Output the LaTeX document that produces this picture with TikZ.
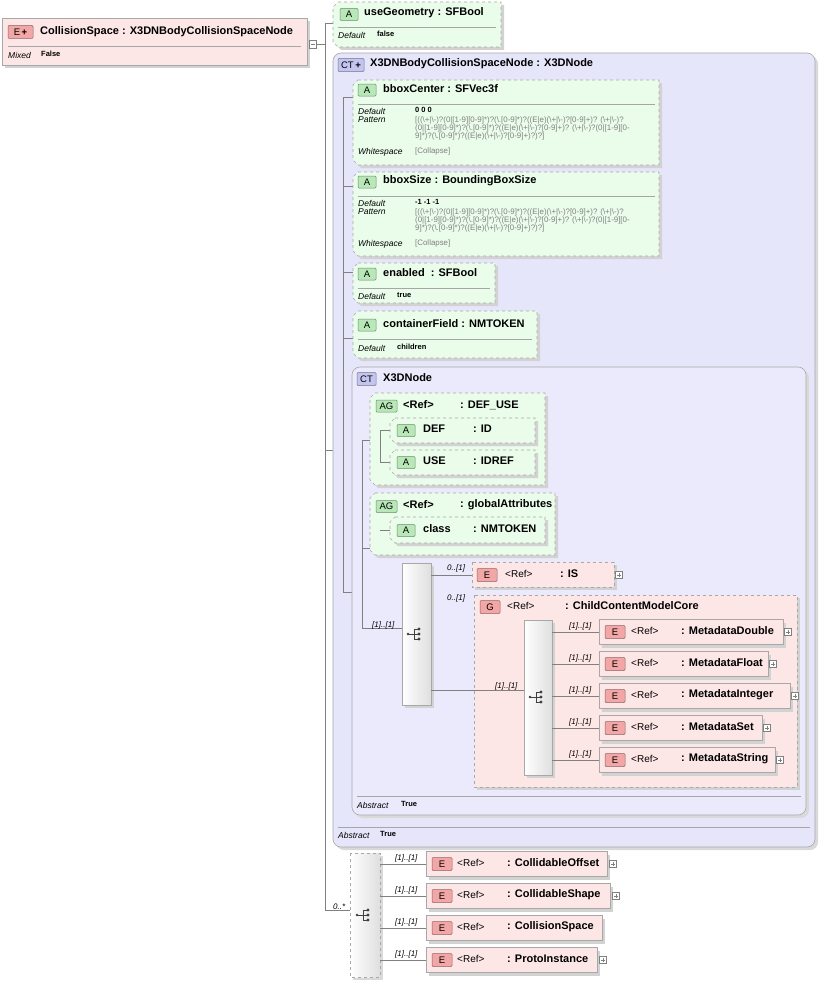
\documentclass[tikz,border=0pt]{standalone}
\usepackage{fontspec}
\setmainfont{Liberation Sans}
\begin{document}
\definecolor{agreen}{HTML}{EAFCEA}
\definecolor{bgreen}{HTML}{B8E8B8}
\definecolor{epink}{HTML}{FDE6E6}
\definecolor{bpink}{HTML}{F2A6A6}
\definecolor{ctlav}{HTML}{E6E6FA}
\definecolor{ctlav2}{HTML}{EAEAFC}
\definecolor{bct}{HTML}{C4C4F0}
\definecolor{bord}{HTML}{A8A8A8}
\definecolor{lin}{HTML}{808080}
\begin{tikzpicture}[x=1pt,y=-1pt,
 t/.style={anchor=west,inner sep=0pt,font=\fontsize{11}{12}\selectfont\bfseries},
 r/.style={anchor=west,inner sep=0pt,font=\fontsize{10}{12}\selectfont},
 k/.style={anchor=west,inner sep=0pt,font=\fontsize{8.5}{9}\selectfont\itshape},
 v/.style={anchor=west,inner sep=0pt,font=\fontsize{7.5}{9}\selectfont\bfseries},
 p/.style={anchor=west,inner sep=0pt,align=left,text=gray,font=\fontsize{7.9}{8}\selectfont},
 m/.style={anchor=west,inner sep=0pt,font=\fontsize{8}{9}\selectfont\itshape},
 con/.style={draw=lin,line width=0.6pt},
 badge/.style={draw=#1!60!black,fill=#1,rounded corners=1pt,line width=0.5pt,inner sep=0pt,font=\fontsize{9.5}{10}\selectfont,anchor=center},
]
\useasboundingbox (0,0) rectangle (819,982);
\newcommand\Ab[4]{% chamfered dashed attribute box
 \fill[gray!35] ({#1+3},{#2+3}) -- ({#3+3},{#2+3}) -- ({#3+3},{#4+3}) -- ({#1+8},{#4+3}) -- ({#1+3},{#4-2}) -- cycle;
 \draw[bord,dashed,fill=agreen,line width=0.6pt] ({#1+5},#2) -- (#3,#2) -- (#3,#4) -- ({#1+5},#4) -- (#1,{#4-5}) -- (#1,{#2+5}) -- cycle;}
\newcommand\Eb[5]{% element box, #5 dashed or solid
 \fill[gray!35] ({#1+3},{#2+3}) rectangle ({#3+3},{#4+3});
 \draw[bord,#5,fill=epink,line width=0.6pt] (#1,#2) rectangle (#3,#4);}
\newcommand\plus[2]{\draw[gray,fill=white,line width=0.4pt] ({#1-3.5},{#2-3.5}) rectangle ({#1+3.5},{#2+3.5}); \draw[gray,line width=0.4pt] ({#1-2},#2)--({#1+2},#2) (#1,{#2-2})--(#1,{#2+2});}
\newcommand\seqic[2]{\fill[black!75] ({#1-6},#2) circle (1.4pt); \draw[black!75,line width=0.8pt] ({#1-6},#2)--(#1,#2) (#1,{#2-5})--(#1,{#2+5}) (#1,{#2-5})--({#1+4},{#2-5}) (#1,{#2+5})--({#1+4},{#2+5}) (#1,#2)--({#1+4},#2);
 \fill[black!75] ({#1+5},{#2-5}) circle (1.6pt) ({#1+5},#2) circle (1.6pt) ({#1+5},{#2+5}) circle (1.6pt);}
\newcommand\seqbox[4]{\fill[gray!35] ({#1+3},{#2+3}) rectangle ({#3+3},{#4+3});
 \shade[left color=white,right color=gray!25] (#1,#2) rectangle (#3,#4); \draw[bord] (#1,#2) rectangle (#3,#4);}

% ---- root element
\Eb{2}{18}{307}{65}{solid}
\node[badge=bpink,minimum width=25pt,minimum height=13pt] (rootb) at (20.5,32) {E\,\textbf{+}};
\node[t] (root) at (40,32) {CollisionSpace : X3DNBodyCollisionSpaceNode};
\draw[gray!70] (8,46)--(301,46);
\node[k] at (8,55) {Mixed}; \node[v] at (41,54) {False};
\draw[gray,fill=white,line width=0.4pt] (309,40) rectangle (316,48); \draw[gray,line width=0.4pt] (310.5,44)--(314.5,44);
\coordinate (rootout) at (316,44);
\draw[con] (rootout) -- (325,44);
\draw[con] (325,23) -- (325,910);
\draw[con] (325,23)--(333,23) (325,450)--(333,450) (325,910)--(350,910);
\node[m] at (333,907) {0..*};

% ---- useGeometry
\Ab{333}{2}{501}{47}
\node[badge=bgreen,minimum width=18pt,minimum height=12pt] at (349,14.5) {A};
\node[t] (ug) at (364,13) {useGeometry : SFBool};
\draw[gray!70] (338,27)--(496,27);
\node[k] at (338,35) {Default}; \node[v] at (377,34) {false};

% ---- CT X3DNBodyCollisionSpaceNode
\fill[gray!30,rounded corners=8pt] (336,56) rectangle (818,850);
\draw[bord,fill=ctlav,rounded corners=8pt,line width=0.6pt] (333,53) rectangle (815,847);
\node[badge=bct,minimum width=26pt,minimum height=13pt] at (351,65) {CT\,\textbf{+}};
\node[t] (ct1) at (370,64) {X3DNBodyCollisionSpaceNode : X3DNode};
\draw[gray!70] (338,827)--(810,827);
\node[k] at (338,835) {Abstract}; \node[v] at (380,834) {True};

\draw[con] (343,97)--(343,592) (343,97)--(353,97) (343,186)--(353,186) (343,272)--(353,272) (343,338)--(353,338) (343,592)--(362,592);

% bboxCenter
\Ab{353}{80}{659}{165}
\node[badge=bgreen,minimum width=18pt,minimum height=12pt] at (367,90) {A};
\node[t] at (383,89) {bboxCenter : SFVec3f};
\draw[gray!70] (358,104)--(655,104);
\node[k] at (358,111) {Default}; \node[v] at (415,110) {0 0 0};
\node[k] at (358,120) {Pattern};
\node[p,anchor=north west] at (415,116.5) {[((\textbackslash+|\textbackslash-)?(0|[1-9][0-9]*)?(\textbackslash.[0-9]*)?((E|e)(\textbackslash+|\textbackslash-)?[0-9]+)? (\textbackslash+|\textbackslash-)?\\(0|[1-9][0-9]*)?(\textbackslash.[0-9]*)?((E|e)(\textbackslash+|\textbackslash-)?[0-9]+)? (\textbackslash+|\textbackslash-)?(0|[1-9][0-\\9]*)?(\textbackslash.[0-9]*)?((E|e)(\textbackslash+|\textbackslash-)?[0-9]+)?)?]};
\node[k] at (358,152) {Whitespace}; \node[p] at (415,151) {[Collapse]};

% bboxSize
\Ab{353}{172}{659}{256}
\node[badge=bgreen,minimum width=18pt,minimum height=12pt] at (367,182) {A};
\node[t] at (383,181) {bboxSize : BoundingBoxSize};
\draw[gray!70] (358,196)--(655,196);
\node[k] at (358,203) {Default}; \node[v] at (415,202) {-1 -1 -1};
\node[k] at (358,212) {Pattern};
\node[p,anchor=north west] at (415,208.5) {[((\textbackslash+|\textbackslash-)?(0|[1-9][0-9]*)?(\textbackslash.[0-9]*)?((E|e)(\textbackslash+|\textbackslash-)?[0-9]+)? (\textbackslash+|\textbackslash-)?\\(0|[1-9][0-9]*)?(\textbackslash.[0-9]*)?((E|e)(\textbackslash+|\textbackslash-)?[0-9]+)? (\textbackslash+|\textbackslash-)?(0|[1-9][0-\\9]*)?(\textbackslash.[0-9]*)?((E|e)(\textbackslash+|\textbackslash-)?[0-9]+)?)?]};
\node[k] at (358,244) {Whitespace}; \node[p] at (415,243) {[Collapse]};

% enabled
\Ab{353}{263}{495}{303}
\node[badge=bgreen,minimum width=18pt,minimum height=12pt] at (367,274) {A};
\node[t] at (383,273) {enabled \ : SFBool};
\draw[gray!70] (358,288)--(490,288);
\node[k] at (358,296) {Default}; \node[v] at (397,295) {true};

% containerField
\Ab{353}{311}{537}{358}
\node[badge=bgreen,minimum width=18pt,minimum height=12pt] at (367,325) {A};
\node[t] at (383,324) {containerField : NMTOKEN};
\draw[gray!70] (358,339)--(532,339);
\node[k] at (358,348) {Default}; \node[v] at (397,347) {children};

% ---- CT X3DNode
\fill[gray!30,rounded corners=8pt] (355,370) rectangle (809,818);
\draw[bord,fill=ctlav2,rounded corners=8pt,line width=0.6pt] (352,367) rectangle (806,815);
\node[badge=bct,minimum width=19pt,minimum height=13pt] at (366.5,379) {CT};
\node[t] (ct2) at (383,378) {X3DNode};
\draw[gray!70] (357,796)--(801,796);
\node[k] at (357,805) {Abstract}; \node[v] at (401,804) {True};

\draw[con] (362,440)--(362,628) (362,440)--(370,440) (362,548)--(370,548) (362,628)--(402,628);
\node[m] at (372,625) {[1]..[1]};

% AG DEF_USE
\Ab{370}{393}{545}{485}
\node[badge=bgreen,minimum width=21pt,minimum height=12pt] at (386.5,406) {AG};
\node[t] at (403,405) {<Ref>}; \node[t] at (460,405) {: DEF\_USE};
\draw[con] (380,430)--(380,462) (380,430)--(390,430) (380,462)--(390,462);
\Ab{390}{418}{535}{443}
\node[badge=bgreen,minimum width=18pt,minimum height=12pt] at (406,430.5) {A};
\node[t] at (423,429) {DEF}; \node[t] at (473,429) {: ID};
\Ab{390}{450}{535}{475}
\node[badge=bgreen,minimum width=18pt,minimum height=12pt] at (406,462.5) {A};
\node[t] at (423,461) {USE}; \node[t] at (473,461) {: IDREF};

% AG globalAttributes
\Ab{370}{493}{555}{555}
\node[badge=bgreen,minimum width=21pt,minimum height=12pt] at (386.5,506.5) {AG};
\node[t] at (403,505) {<Ref>}; \node[t] at (460,505) {: globalAttributes};
\draw[con] (380,530)--(390,530);
\Ab{390}{517}{545}{543}
\node[badge=bgreen,minimum width=18pt,minimum height=12pt] at (406,530.5) {A};
\node[t] at (423,529) {class}; \node[t] at (473,529) {: NMTOKEN};

% sequence 1
\seqbox{402}{563}{431}{705}
\seqic{414}{634}
\draw[con] (431,575)--(472,575) (431,690)--(474,690);
\node[m] at (447,568) {0..[1]};
\node[m] at (447,598) {0..[1]};

% E IS
\Eb{472}{562}{614}{587}{dashed}
\node[badge=bpink,minimum width=20pt,minimum height=13pt] at (487,575) {E};
\node[r] at (505,574) {<Ref>}; \node[t] at (560,574) {: IS};
\plus{619}{575}

% G ChildContentModelCore
\Eb{474}{595}{797}{787}{dashed}
\node[badge=bpink,minimum width=20pt,minimum height=13pt] at (490,607) {G};
\node[r] at (507,606) {<Ref>}; \node[t] at (565,606) {: ChildContentModelCore};
\draw[con] (474,690)--(524,690);
\node[m] at (495,686) {[1]..[1]};
\seqbox{524}{620}{552}{775}
\seqic{536}{697}
\foreach \yy/\xe/\nm in {632/783/MetadataDouble,664/768/MetadataFloat,696/790/MetadataInteger,728/762/MetadataSet,760/775/MetadataString}{
 \draw[con] (552,\yy)--(599,\yy);
 \node[m] at (569,{\yy-6}) {[1]..[1]};
 \Eb{599}{\yy-12.5}{\xe}{\yy+12.5}{solid}
 \node[badge=bpink,minimum width=20pt,minimum height=13pt] at (615,\yy) {E};
 \node[r] at (631,{\yy-1}) {<Ref>}; \node[t] at (681,{\yy-1}) {: \nm};
 \plus{\xe+5}{\yy}
}

% ---- bottom sequence
\fill[gray!30] (353,856) rectangle (383,980);
\shade[left color=white,right color=gray!25] (350,853) rectangle (380,977);
\draw[bord,dashed] (350,853) rectangle (380,977);
\seqic{363}{915}
\foreach \yy/\xe/\nm/\pl in {864/607/CollidableOffset/1,896/610/CollidableShape/1,928/602/CollisionSpace/0,960/597/ProtoInstance/1}{
 \draw[con] (380,\yy)--(426,\yy);
 \node[m] at (395,{\yy-6}) {[1]..[1]};
 \Eb{426}{\yy-12.5}{\xe}{\yy+12.5}{solid}
 \node[badge=bpink,minimum width=20pt,minimum height=13pt] at (442,\yy) {E};
 \node[r] at (457,{\yy-1}) {<Ref>}; \node[t] at (507,{\yy-1}) {: \nm};
 \ifnum\pl=1 \plus{\xe+6}{\yy}\fi
}
\end{tikzpicture}
\end{document}
